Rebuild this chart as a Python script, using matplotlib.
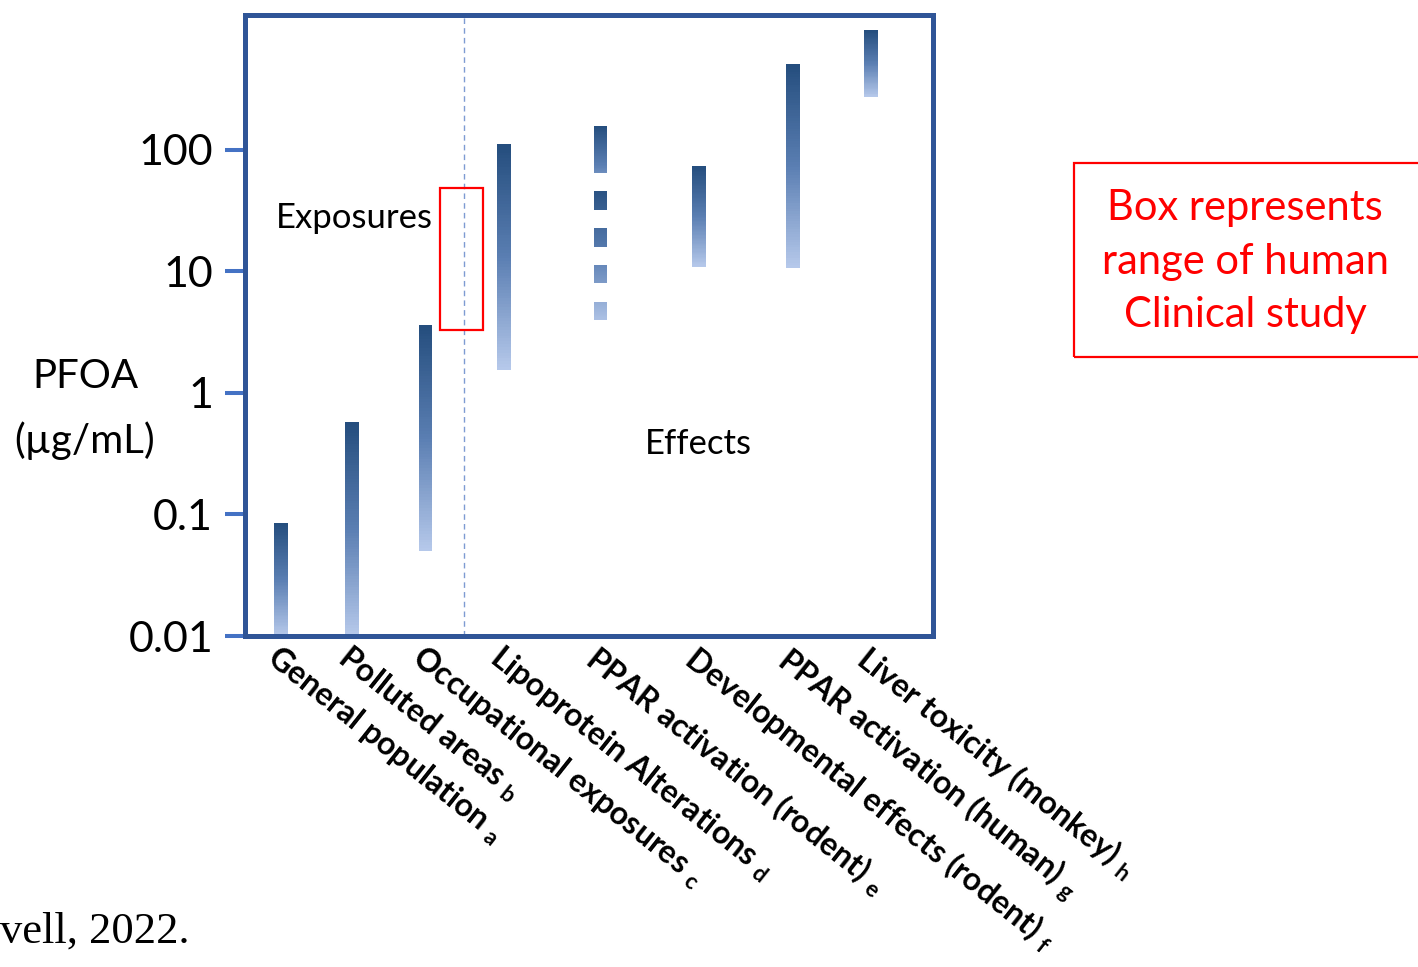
import numpy as np
import matplotlib
matplotlib.use("Agg")
import matplotlib.pyplot as plt
from matplotlib.colors import LinearSegmentedColormap
from matplotlib.patches import Rectangle
from matplotlib.ticker import NullLocator

# ---------------- data ----------------
categories = ["General population", "Polluted areas", "Occupational exposures",
              "Lipoprotein Alterations", "PPAR activation (rodent)",
              "Developmental effects (rodent)", "PPAR activation (human)",
              "Liver toxicity (monkey)"]
footnotes = ["a", "b", "c", "d", "e", "f", "g", "h"]
range_low = [0.01, 0.01, 0.050, 1.55, 64.7, 10.9, 10.7, 273]
range_high = [0.085, 0.577, 3.63, 112, 158, 73.8, 510, 972]
# PPAR activation (rodent): additional discrete levels below main range
rodent_low = [32.1, 15.9, 8.04, 3.99]
rodent_high = [46.0, 22.8, 11.3, 5.61]
ytick_values = [0.01, 0.1, 1, 10, 100]
ytick_labels = ["0.01", "0.1", "1", "10", "100"]
clinical_low, clinical_high = 3.30, 48.7

# ---------------- layout / style ----------------
x_pos = [0.523, 1.555, 2.624, 3.765, 5.167, 6.599, 7.965, 9.099]
divider_x = 3.183
clin_x0, clin_x1 = 2.834, 3.459
bar_w = 0.2
W, H = 1418, 967

plt.rcParams['font.family'] = ['Lato', 'DejaVu Sans']
plt.rcParams['mathtext.fontset'] = 'custom'
plt.rcParams['mathtext.rm'] = 'Lato'
plt.rcParams['mathtext.it'] = 'Lato:italic'

cmap = LinearSegmentedColormap.from_list("bar", ["#254e7e", "#5a7eb2", "#b5c8ea"])

fig = plt.figure(figsize=(W / 100, H / 100), dpi=100)
ax = fig.add_axes([245 / W, 1 - 636 / H, (933 - 245) / W, (636 - 15) / H])
ax.set_yscale('log')
ax.set_xlim(0, 10)
ax.set_ylim(0.01, 1291)


def gradient_bar(x, lo, hi, t_top=0.0, t_bot=1.0):
    ys = np.geomspace(lo, hi, 80)
    C = np.linspace(t_bot, t_top, 79)[:, None]
    ax.pcolormesh([x - bar_w / 2, x + bar_w / 2], ys, C, cmap=cmap,
                  vmin=0, vmax=1, shading='flat', antialiased=False,
                  edgecolors='none', zorder=2)


for i, (x, lo, hi) in enumerate(zip(x_pos, range_low, range_high)):
    if i == 4:
        gradient_bar(x, lo, hi, 0.0, 0.6)
    else:
        gradient_bar(x, lo, hi)

# discrete levels for PPAR activation (rodent)
span_top = np.log10(max(rodent_high))
span_bot = np.log10(min(rodent_low))
for lo, hi in zip(rodent_low, rodent_high):
    t_top = (span_top - np.log10(hi)) / (span_top - span_bot) * 0.9 + 0.05
    t_bot = (span_top - np.log10(lo)) / (span_top - span_bot) * 0.9 + 0.05
    gradient_bar(x_pos[4], lo, hi, t_top, t_bot)

# divider and clinical-study box
ax.axvline(divider_x, color='#7e9bd2', lw=1.0, ls=(0, (4, 3)), zorder=1)
ax.add_patch(Rectangle((clin_x0, clinical_low), clin_x1 - clin_x0,
                       clinical_high - clinical_low, fill=False,
                       ec='#ff0000', lw=1.6, zorder=3))

ax.text(0.45, 22.8, "Exposures", fontsize=25, ha='left', va='baseline')
ax.text(5.814, 0.315, "Effects", fontsize=25, ha='left', va='baseline')

# axes styling
for s in ax.spines.values():
    s.set_linewidth(3.6)
    s.set_color('#2f5597')
ax.set_yticks(ytick_values)
ax.set_yticklabels(ytick_labels)
ax.yaxis.set_minor_locator(NullLocator())
ax.tick_params(axis='y', length=14.4, width=2.9, color='#4472c4', pad=8.6,
               labelsize=31)

ax.set_xticks(x_pos)
ax.set_xticklabels([f"{c} $_{{\\mathregular{{{f}}}}}$"
                    for c, f in zip(categories, footnotes)],
                   rotation=-38.5, ha='left', va='top', rotation_mode='anchor',
                   fontweight='bold', fontsize=23)
ax.tick_params(axis='x', length=0, pad=4)

# y label
fig.text(85 / W, 1 - 409 / H, "PFOA\n(µg/mL)", ha='center', va='center',
         fontsize=29, linespacing=1.85, multialignment='center')

# annotation box
fig.patches.append(Rectangle((1074 / W, 1 - 357 / H), (1440 - 1074) / W,
                             (357 - 163) / H, transform=fig.transFigure,
                             fill=False, ec='#ff0000', lw=1.6))
fig.text(1245 / W, 1 - 262 / H, "Box represents\nrange of human\nClinical study",
         ha='center', va='center', color='#ff0000', fontsize=30,
         linespacing=1.5, multialignment='center')

# citation fragment
fig.text(0, 1 - 943 / H, "vell, 2022.", ha='left', va='baseline',
         fontsize=32, family=['Liberation Serif', 'DejaVu Serif'])

fig.savefig("out.png", dpi=100)
